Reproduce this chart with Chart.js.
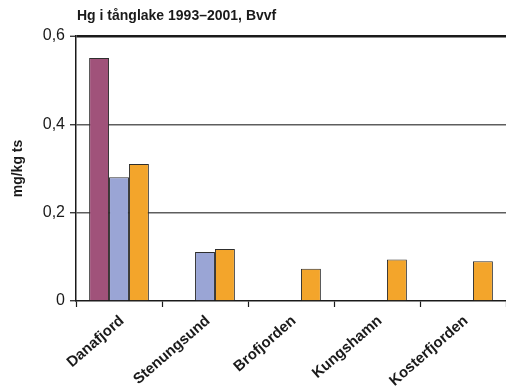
<!DOCTYPE html>
<html>
<head>
<meta charset="utf-8">
<script src="https://cdn.jsdelivr.net/npm/chart.js@4/dist/chart.umd.min.js"></script>
<style>
  html, body { margin: 0; padding: 0; background: #fff; }
  #wrap { width: 506px; height: 390px; position: relative; }
</style>
</head>
<body>
<div id="wrap"><canvas id="c" width="506" height="390"></canvas></div>
<script>
// Mercury in eelpout (tånglake), mg/kg dry weight, per site
const chartTitle = 'Hg i tånglake 1993–2001, Bvvf';
const axisTitle = 'mg/kg ts';
const categories = ['Danafjord', 'Stenungsund', 'Brofjorden', 'Kungshamn', 'Kosterfjorden'];
const seriesA = [0.55, null, null, null, null];
const seriesB = [0.28, 0.111, null, null, null];
const seriesC = [0.31, 0.118, 0.073, 0.094, 0.09];
const yTicks = [0, 0.2, 0.4, 0.6];

const FONT = "Arial, 'Liberation Sans', Helvetica, sans-serif";

const fmt = v => (v === 0 ? '0' : v.toFixed(1).replace('.', ','));

// Title drawn flush with the left edge of the plot area
const titlePlugin = {
  id: 'plotTitle',
  afterDraw(chart) {
    const ctx = chart.ctx;
    ctx.save();
    ctx.font = 'bold 14px ' + FONT;
    ctx.fillStyle = '#1a1a1a';
    ctx.textAlign = 'left';
    ctx.textBaseline = 'alphabetic';
    ctx.fillText(chartTitle, chart.chartArea.left + 1, 20);
    ctx.restore();
  }
};

new Chart(document.getElementById('c'), {
  type: 'bar',
  data: {
    labels: categories,
    datasets: [
      { label: 'A', data: seriesA, backgroundColor: '#A0527A' },
      { label: 'B', data: seriesB, backgroundColor: '#9AA5D5' },
      { label: 'C', data: seriesC, backgroundColor: '#F3A52B' }
    ].map(d => Object.assign(d, {
      borderColor: '#2e2e2e',
      borderWidth: 1,
      borderSkipped: 'bottom',
      categoryPercentage: 0.695,
      barPercentage: 1.0
    }))
  },
  options: {
    responsive: false,
    animation: false,
    layout: { padding: { top: 36, left: 0, right: 0, bottom: 0 } },
    plugins: {
      legend: { display: false },
      tooltip: { enabled: false },
      title: { display: false }
    },
    scales: {
      x: {
        offset: true,
        grid: {
          offset: true,
          drawOnChartArea: false,
          drawTicks: true,
          tickLength: 6,
          tickColor: '#1a1a1a',
          tickWidth: 1.2
        },
        border: { display: true, color: '#1a1a1a', width: 1.5 },
        ticks: {
          autoSkip: false,
          maxRotation: 41,
          minRotation: 41,
          padding: 5,
          labelOffset: 3,
          color: '#1a1a1a',
          font: { family: FONT, size: 15, weight: 'bold' }
        },
        afterFit(scale) { scale.height = 89; }
      },
      y: {
        min: 0,
        max: 0.6,
        afterBuildTicks(scale) { scale.ticks = yTicks.map(v => ({ value: v })); },
        grid: {
          drawTicks: true,
          tickLength: 6,
          tickColor: '#1a1a1a',
          tickWidth: 1.2,
          color: ctx => (ctx.tick && ctx.tick.value >= 0.6 ? '#1a1a1a' : (ctx.tick && ctx.tick.value === 0 ? 'rgba(0,0,0,0)' : '#5e5e5e')),
          lineWidth: ctx => (ctx.tick && ctx.tick.value >= 0.6 ? 2.5 : 1.5)
        },
        border: { display: true, color: '#1a1a1a', width: 1.5 },
        ticks: {
          padding: 5,
          color: '#1a1a1a',
          font: { family: FONT, size: 16 },
          callback: v => fmt(v)
        },
        title: {
          display: true,
          text: axisTitle,
          color: '#1a1a1a',
          font: { family: FONT, size: 14, weight: 'bold' },
          padding: { top: 10, bottom: 0 }
        },
        afterFit(scale) { scale.width = 76; }
      }
    }
  },
  plugins: [titlePlugin]
});
</script>
</body>
</html>
